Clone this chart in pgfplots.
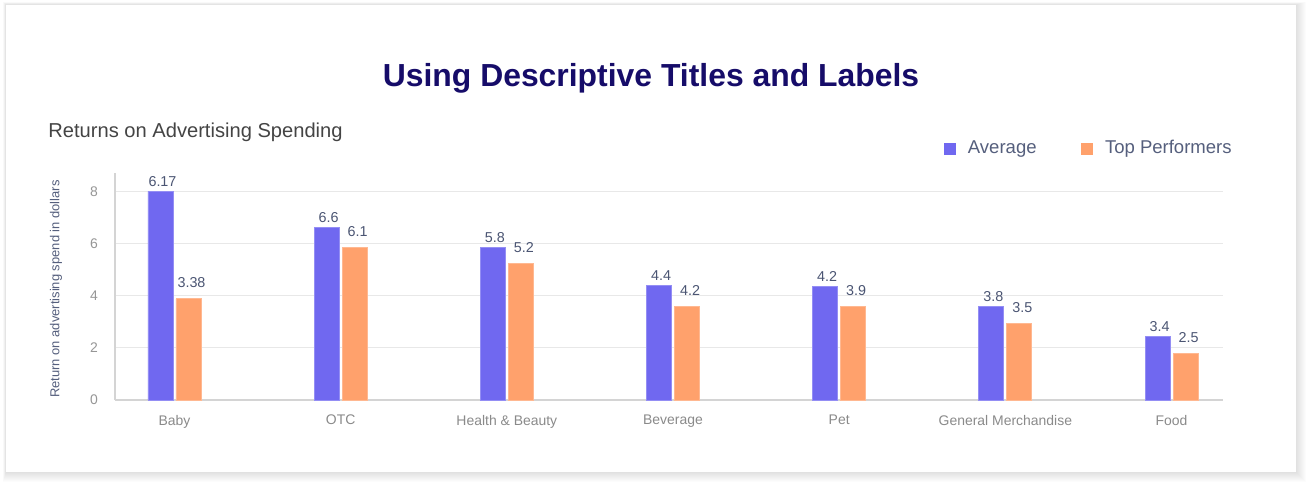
\documentclass[border=0pt]{standalone}
\usepackage{pgfplots}
\pgfplotsset{compat=1.18}
\usepackage{fontspec}
\setmainfont{Liberation Sans}

\definecolor{avgcol}{RGB}{112,104,240}
\definecolor{topcol}{RGB}{255,161,108}
\definecolor{titlecol}{RGB}{22,12,105}
\definecolor{subcol}{RGB}{68,68,68}
\definecolor{legcol}{RGB}{85,95,125}
\definecolor{valcol}{RGB}{75,85,115}
\definecolor{tickcol}{RGB}{150,150,150}
\definecolor{catcol}{RGB}{138,138,138}
\definecolor{gridcol}{RGB}{232,232,232}
\definecolor{axiscol}{RGB}{212,212,212}

\begin{document}
\begin{tikzpicture}
% page and card, in pixel units of the reference
\begin{scope}[x=0.5bp,y=-0.5bp]
  \fill[white] (0,0) rectangle (1310,487);
  \foreach \k in {1,...,10}{
    \fill[black,opacity=0.012] (6-\k*0.3,5-\k*0.3) rectangle (1296+\k,472+\k);
  }
  \fill[white] (6,5) rectangle (1296,472);
  \node[font=\fontsize{16}{18}\selectfont\bfseries, text=titlecol] at (651,78) {Using Descriptive Titles and Labels};
  \node[font=\fontsize{10.1}{12}\selectfont, text=subcol, anchor=west, inner sep=0pt] at (48,132) {Returns on Advertising Spending};
  \node[font=\fontsize{6.5}{7}\selectfont, text=legcol, rotate=90] at (56,289) {Return on advertising spend in dollars};
\end{scope}

\begin{axis}[
    at={(57.5bp,-200bp)}, anchor=south west,
    scale only axis,
    width=554bp, height=113.5bp,
    ybar=1.5bp, bar width=12.5bp,
    xmin=-0.358, xmax=6.31,
    ymin=0, ymax=8.7,
    xtick={0,1,2,3,4,5,6},
    xticklabels={Baby,OTC,Health \& Beauty,Beverage,Pet,General Merchandise,Food},
    ytick={0,2,4,6,8},
    /pgf/number format/assume math mode=true,
    major tick length=0pt,
    axis x line*=bottom, axis y line*=left,
    x axis line style={axiscol, line width=1bp, -},
    y axis line style={axiscol, line width=0.6bp, -},
    ymajorgrids, major grid style={gridcol, line width=0.5bp},
    xticklabel style={font=\fontsize{7}{8}\selectfont, text=catcol, yshift=-4bp},
    yticklabel style={font=\fontsize{7}{8}\selectfont, text=tickcol, xshift=-5bp},
    point meta=explicit symbolic,
    nodes near coords,
    every node near coord/.append style={font=\fontsize{7.2}{8}\selectfont, text=valcol},
    legend columns=2,
    legend style={at={(0.742,1.107)}, anchor=west, draw=none, fill=none,
      font=\fontsize{9.3}{11}\selectfont, text=legcol,
      /tikz/every even column/.append style={column sep=20bp}},
    legend image code/.code={\fill[#1,draw=none] (0bp,-3bp) rectangle (6bp,3bp); \path (10bp,0bp);},
]
\addplot[fill=avgcol, draw=avgcol!75!white, line width=0.4bp,
  every node near coord/.append style={yshift=-1bp, xshift=1bp}] coordinates {
  (0,8.00) [6.17]
  (1,6.62) [6.6]
  (2,5.85) [5.8]
  (3,4.38) [4.4]
  (4,4.35) [4.2]
  (5,3.58) [3.8]
  (6,2.42) [3.4]
};
\addlegendentry{Average}
\addplot[fill=topcol, draw=topcol!75!white, line width=0.4bp,
  every node near coord/.append style={yshift=2bp, xshift=1.5bp}] coordinates {
  (0,3.88) [3.38]
  (1,5.85) [6.1]
  (2,5.23) [5.2]
  (3,3.58) [4.2]
  (4,3.58) [3.9]
  (5,2.92) [3.5]
  (6,1.77) [2.5]
};
\addlegendentry{Top Performers}
\end{axis}
\end{tikzpicture}
\end{document}
